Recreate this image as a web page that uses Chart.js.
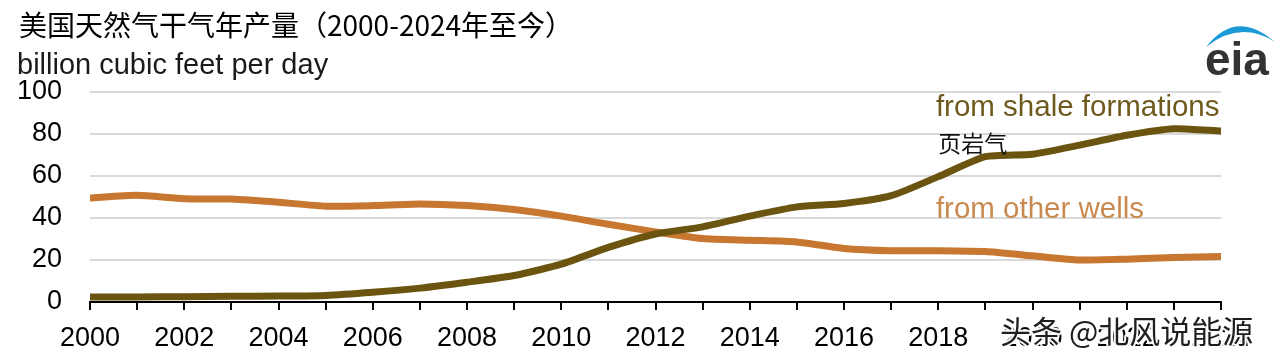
<!DOCTYPE html>
<html><head><meta charset="utf-8">
<script src="https://cdn.jsdelivr.net/npm/chart.js@4/dist/chart.umd.min.js"></script>
<style>html,body{margin:0;padding:0;background:#fff}#wrap{width:1278px;height:360px;position:relative}</style>
</head><body><div id="wrap"><canvas id="c" width="1278" height="360"></canvas></div>
<script>
// ---- data ----
const years = [2000,2001,2002,2003,2004,2005,2006,2007,2008,2009,2010,2011,2012,2013,2014,2015,2016,2017,2018,2019,2020,2021,2022,2023,2024];
const shaleGas = [2.4,2.4,2.5,2.7,2.8,3.1,4.6,6.6,9.4,12.6,18.0,26.0,32.4,35.8,40.9,45.3,46.9,50.6,59.7,69.2,70.4,74.7,79.4,82.5,81.4];
const otherWells = [49.5,50.8,49.2,49.0,47.5,45.6,45.9,46.7,45.9,44.0,40.9,37.0,33.4,30.2,29.4,28.6,25.5,24.4,24.4,24.0,22.0,20.0,20.4,21.2,21.7];
const yTickValues = [0,20,40,60,80,100];
const xTickLabels = ['2000','2002','2004','2006','2008','2010','2012','2014','2016','2018','2020','2022','2024'];
const seriesNames = ['from shale formations','from other wells'];
const chartTitle = '美国天然气干气年产量（2000-2024年至今）';
const unitLabel = 'billion cubic feet per day';
const noteLabel = '页岩气';
const watermarkText = '头条 @北风说能源';
const logoText = 'eia';

// ---- styles ----
const SHALE = '#6b5410';
const OTHER = '#c7772f';
const SHALE_TXT = '#6e5a1c';
const OTHER_TXT = '#c98a4f';
const SANS = '"Liberation Sans", Arial, sans-serif';
const CJK = '"Noto Sans CJK SC", sans-serif';

const overlay = {
  id: 'overlay',
  afterDraw(chart) {
    const ctx = chart.ctx;
    const xs = chart.scales.x, ys = chart.scales.y;
    ctx.save();
    ctx.textAlign = 'left';
    // title
    ctx.textBaseline = 'middle';
    ctx.fillStyle = '#000';
    ctx.font = '28px ' + CJK;
    ctx.fillText(chartTitle, 19, 25);
    // unit
    ctx.textBaseline = 'alphabetic';
    ctx.fillStyle = '#1a1a1a';
    ctx.font = '29px ' + SANS;
    ctx.fillText(unitLabel, 17, 74);
    // series labels
    ctx.font = '29.5px ' + SANS;
    ctx.fillStyle = SHALE_TXT;
    ctx.fillText(seriesNames[0], xs.getPixelForValue(2017.95), ys.getPixelForValue(88.6));
    ctx.fillStyle = OTHER_TXT;
    ctx.fillText(seriesNames[1], xs.getPixelForValue(2017.95), ys.getPixelForValue(40));
    // note
    ctx.textBaseline = 'middle';
    ctx.fillStyle = '#111';
    ctx.font = '23px ' + CJK;
    ctx.fillText(noteLabel, xs.getPixelForValue(2018.0), ys.getPixelForValue(75.5));
    // eia logo
    ctx.fillStyle = '#1b9ad6';
    ctx.beginPath();
    ctx.moveTo(1206, 47);
    ctx.quadraticCurveTo(1236, 8, 1275, 42);
    ctx.quadraticCurveTo(1240, 20, 1206, 47);
    ctx.closePath();
    ctx.fill();
    ctx.fillStyle = '#333';
    ctx.font = 'bold 46px ' + SANS;
    ctx.textBaseline = 'alphabetic';
    ctx.fillText(logoText, 1205, 75);
    // watermark
    ctx.font = '31px ' + CJK;
    ctx.textBaseline = 'middle';
    ctx.lineWidth = 4;
    ctx.strokeStyle = 'rgba(255,255,255,0.95)';
    ctx.lineJoin = 'round';
    ctx.strokeText(watermarkText, 1000, 331);
    ctx.fillStyle = '#1e1e1e';
    ctx.fillText(watermarkText, 1000, 331);
    ctx.restore();
  }
};

new Chart(document.getElementById('c'), {
  type: 'line',
  data: {
    datasets: [
      { label: seriesNames[0], data: years.map((y, i) => ({x: y, y: shaleGas[i]})),
        borderColor: SHALE, borderWidth: 7, pointRadius: 0, tension: 0.2,
        borderCapStyle: 'round', borderJoinStyle: 'round', order: 0 },
      { label: seriesNames[1], data: years.map((y, i) => ({x: y, y: otherWells[i]})),
        borderColor: OTHER, borderWidth: 7, pointRadius: 0, tension: 0.2,
        borderCapStyle: 'round', borderJoinStyle: 'round', order: 1 }
    ]
  },
  options: {
    responsive: false,
    devicePixelRatio: 1,
    animation: false,
    layout: { padding: { top: 92, right: 57, left: 0, bottom: 0 } },
    plugins: { legend: { display: false }, tooltip: { enabled: false }, title: { display: false } },
    scales: {
      x: {
        type: 'linear', min: years[0], max: years[years.length - 1],
        afterFit(s) { s.height = 58; },
        border: { display: true, color: '#000', width: 2 },
        grid: { display: true, drawOnChartArea: false, drawTicks: true, tickLength: 8, color: '#000', lineWidth: 2 },
        ticks: {
          stepSize: 1, autoSkip: false, maxRotation: 0, padding: 12,
          color: '#000', font: { family: SANS, size: 27 },
          callback: (v) => xTickLabels.includes(String(v)) ? String(v) : ''
        }
      },
      y: {
        min: 0, max: 100,
        afterFit(s) { s.width = 90; },
        afterBuildTicks(s) { s.ticks = yTickValues.map(v => ({ value: v })); },
        border: { display: false },
        grid: { color: '#d9d9d9', lineWidth: 2, drawTicks: false },
        ticks: { padding: 28, color: '#000', font: { family: SANS, size: 27 } }
      }
    }
  },
  plugins: [overlay]
});
</script>
</body></html>
